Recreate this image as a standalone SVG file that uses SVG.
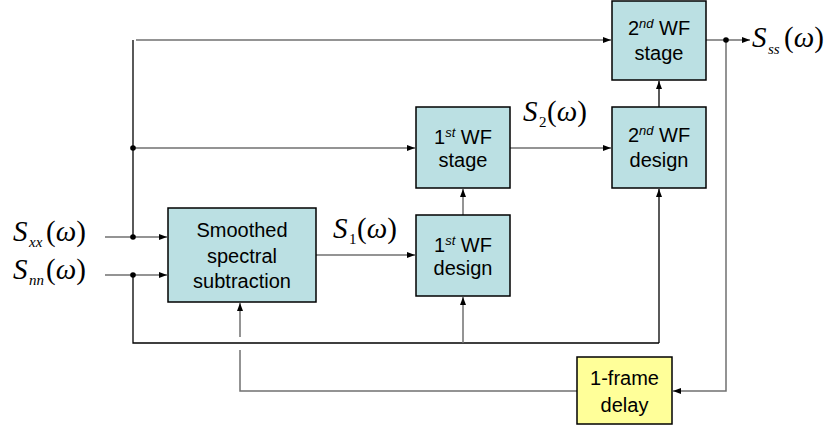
<svg xmlns="http://www.w3.org/2000/svg" width="826" height="430" viewBox="0 0 826 430">
<defs>
<marker id="ah" viewBox="0 0 8 6" refX="8" refY="3" markerWidth="8" markerHeight="6" markerUnits="userSpaceOnUse" orient="auto">
<path d="M0,0 L8,3 L0,6 z" fill="#000"/>
</marker>
</defs>
<style>
.box{fill:#BBE0E3;stroke:#000;stroke-width:1.5}
.delay{fill:#FFFF99;stroke:#000;stroke-width:1.5}
.t{font-family:"Liberation Sans",Arial,sans-serif;font-size:20px;fill:#000;text-anchor:middle}
.sup{font-size:13px;font-style:italic}
.g{fill:none;stroke:#707070;stroke-width:1.5}
.k{fill:none;stroke:#000;stroke-width:1.3}
.arr{marker-end:url(#ah)}
.dot{fill:#000}
.m{font-family:"Liberation Serif","Times New Roman",serif;font-size:29px;fill:#000}
.mi{font-style:italic}
.sub{font-family:"Liberation Serif","Times New Roman",serif;font-size:15px;font-style:italic;fill:#000}
</style>

<g id="connectors">
<path class="g arr" d="M105,237 H167"/>
<path class="g arr" d="M105,275 H167"/>
<path class="k" d="M133,237 V40"/>
<path class="g arr" d="M136,40 H611"/>
<path class="g arr" d="M133,148 H415"/>
<path class="k" d="M133,275 V343 H659"/>
<path class="g arr" d="M463,343 V297"/>
<path class="k arr" d="M659,343 V189"/>
<path class="g arr" d="M316,255 H415"/>
<path class="g arr" d="M463,215 V189"/>
<path class="g arr" d="M510,148 H611"/>
<path class="k arr" d="M659,107 V81"/>
<path class="g arr" d="M706,40 H750"/>
<path class="g arr" d="M726,40 V391 H673"/>
<path class="g" d="M577,391 H240 V350"/>
<path class="g arr" d="M240,337 V303"/>
<circle class="dot" cx="133" cy="237" r="2.8"/>
<circle class="dot" cx="133" cy="275" r="2.8"/>
<circle class="dot" cx="133" cy="148" r="2.8"/>
<circle class="dot" cx="726" cy="40" r="2.8"/>
</g>

<g id="smoothed">
<rect class="box" x="168" y="208" width="148" height="94"/>
<text class="t" x="242" y="237">Smoothed</text>
<text class="t" x="242" y="263">spectral</text>
<text class="t" x="242" y="288">subtraction</text>
</g>

<g id="wf1stage">
<rect class="box" x="416" y="107" width="94" height="81"/>
<text class="t" x="463" y="144">1<tspan class="sup" dy="-7">st</tspan><tspan dy="7"> WF</tspan></text>
<text class="t" x="463" y="167">stage</text>
</g>

<g id="wf1design">
<rect class="box" x="416" y="215" width="94" height="81"/>
<text class="t" x="463" y="252">1<tspan class="sup" dy="-7">st</tspan><tspan dy="7"> WF</tspan></text>
<text class="t" x="463" y="275">design</text>
</g>

<g id="wf2stage">
<rect class="box" x="612" y="1" width="94" height="79"/>
<text class="t" x="659" y="35">2<tspan class="sup" dy="-7">nd</tspan><tspan dy="7"> WF</tspan></text>
<text class="t" x="659" y="60">stage</text>
</g>

<g id="wf2design">
<rect class="box" x="612" y="107" width="94" height="81"/>
<text class="t" x="659" y="142">2<tspan class="sup" dy="-7">nd</tspan><tspan dy="7"> WF</tspan></text>
<text class="t" x="659" y="167">design</text>
</g>

<g id="delay">
<rect class="delay" x="577" y="357" width="95" height="67"/>
<text class="t" x="624.5" y="385">1-frame</text>
<text class="t" x="624.5" y="412">delay</text>
</g>

<g id="labels">
<text class="m" x="13" y="241"><tspan class="mi">S</tspan></text>
<text class="sub" x="29" y="247">xx</text>
<text class="m" x="46" y="241">(<tspan class="mi">ω</tspan>)</text>

<text class="m" x="13" y="279"><tspan class="mi">S</tspan></text>
<text class="sub" x="29" y="285">nn</text>
<text class="m" x="46" y="279">(<tspan class="mi">ω</tspan>)</text>

<text class="m" x="333" y="238"><tspan class="mi">S</tspan></text>
<text class="sub" x="349" y="244" style="font-style:normal">1</text>
<text class="m" x="357" y="238">(<tspan class="mi">ω</tspan>)</text>

<text class="m" x="523" y="121"><tspan class="mi">S</tspan></text>
<text class="sub" x="539" y="127" style="font-style:normal">2</text>
<text class="m" x="547" y="121">(<tspan class="mi">ω</tspan>)</text>

<text class="m" x="752" y="47"><tspan class="mi">S</tspan></text>
<text class="sub" x="768" y="54">ss</text>
<text class="m" x="784" y="47">(<tspan class="mi">ω</tspan>)</text>
</g>
</svg>
